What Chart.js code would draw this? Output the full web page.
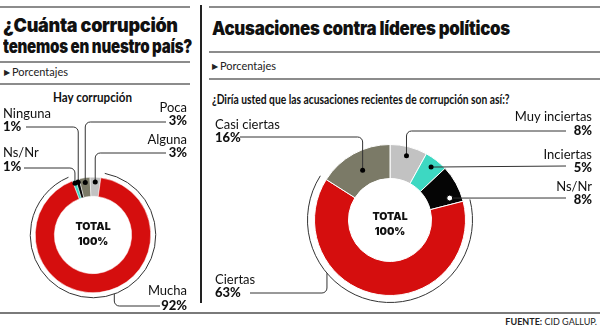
<!DOCTYPE html>
<html>
<head>
<meta charset="utf-8">
<script src="https://cdn.jsdelivr.net/npm/chart.js@4/dist/chart.umd.min.js"></script>
<style>
body{margin:0;width:600px;height:329px;position:relative;background:#fff;font-family:Lato,sans-serif;color:#111;overflow:hidden}
.hl{position:absolute;height:2px;background:#8c8c8c}
.t{position:absolute;white-space:nowrap;transform-origin:0 50%}
.title{font-family:Inter,Lato,sans-serif;font-weight:900;font-size:19px;line-height:21px;letter-spacing:-0.3px}
.pc{font-size:11px;line-height:12px;color:#222}
.pc span{font-size:8px;margin-right:2px;position:relative;top:-1px}
canvas{position:absolute}
</style>
</head>
<body>
<div class="hl" style="left:0;top:6px;width:190px"></div>
<div class="hl" style="left:209px;top:6px;width:391px"></div>
<div style="position:absolute;left:200px;top:5px;width:2px;height:298px;background:#222"></div>

<div class="t title" id="lt1" data-w="175" style="left:3px;top:15px">¿Cuánta corrupción</div>
<div class="t title" id="lt2" data-w="189" style="left:3px;top:36px">tenemos en nuestro país?</div>
<div class="hl" style="left:0;top:61px;width:190px"></div>
<div class="t pc" style="left:4px;top:66px"><span>&#9654;</span>Porcentajes</div>
<div class="hl" style="left:0;top:83px;width:190px"></div>
<div class="t" id="hay" data-w="79" style="left:53px;top:91px;font-weight:700;font-size:12.5px;line-height:14px">Hay corrupción</div>

<div class="t title" id="rt" data-w="298" style="left:212px;top:18px">Acusaciones contra líderes políticos</div>
<div class="hl" style="left:209px;top:51px;width:391px"></div>
<div class="t pc" style="left:212px;top:60px"><span>&#9654;</span>Porcentajes</div>
<div class="hl" style="left:209px;top:78px;width:391px"></div>
<div class="t" id="sub" data-w="298" style="left:212px;top:93px;font-weight:700;font-size:12.5px;line-height:14px">¿Diría usted que las acusaciones recientes de corrupción son así:?</div>

<canvas id="leftChart" width="198" height="224" style="left:0;top:88px"></canvas>
<canvas id="rightChart" width="400" height="212" style="left:200px;top:100px"></canvas>

<div class="hl" style="left:0;top:312px;width:600px;background:#7a7a7a"></div>
<div class="t" style="right:3px;top:317px;font-size:9px;line-height:10px;color:#222"><b>FUENTE:</b> CID GALLUP.</div>

<script>
// Datos
const leftLabels = ['Ns/Nr', 'Ninguna', 'Poca', 'Alguna', 'Mucha'];
const leftValues = [1, 1, 3, 3, 92];
const rightLabels = ['Muy inciertas', 'Inciertas', 'Ns/Nr', 'Ciertas', 'Casi ciertas'];
const rightValues = [8, 5, 8, 63, 16];

const leftColors = ['#3dd8c2', '#050505', '#7b7a67', '#c2c2c2', '#d50e0e'];
const rightColors = ['#c2c2c2', '#3dd8c2', '#050505', '#d50e0e', '#7b7a67'];

// Ajustar el ancho de los titulos
const fit = el => {
    const w = +el.dataset.w;
    el.style.transform = 'scaleX(' + (w / el.offsetWidth) + ')';
};
document.querySelectorAll('[data-w]').forEach(fit);

// Etiquetas, lineas guia y texto central
const callouts = {
    id: 'callouts',
    afterDatasetsDraw(chart, args, opts) {
        const ctx = chart.ctx;
        const meta = chart.getDatasetMeta(0);
        const labels = chart.data.labels;
        const vals = chart.data.datasets[0].data;
        const first = meta.data[0];
        const cx = first.x, cy = first.y, R = first.outerRadius;
        const ar = R + opts.arcGap;
        const big = meta.data[opts.arcIndex];
        const rad = Math.PI / 180;

        ctx.save();
        ctx.strokeStyle = '#333';
        ctx.lineWidth = 1;
        ctx.beginPath();
        ctx.arc(cx, cy, ar, big.startAngle + opts.arcTrim[0] * rad, big.endAngle - opts.arcTrim[1] * rad);
        ctx.stroke();

        // TOTAL 100%
        ctx.fillStyle = '#111';
        ctx.textAlign = 'center';
        ctx.textBaseline = 'middle';
        ctx.font = '900 10.5px Inter';
        ctx.fillText('TOTAL', cx, cy - 8 + opts.textShift);
        ctx.fillText('100%', cx, cy + 7 + opts.textShift);

        opts.items.forEach(it => {
            const el = meta.data[it.i];
            let px, py;
            if (it.onArc != null) {
                const a = el.startAngle + it.onArc * (el.endAngle - el.startAngle);
                px = cx + ar * Math.cos(a);
                py = cy + ar * Math.sin(a);
            } else {
                const af = it.af == null ? 0.5 : it.af;
                const a = el.startAngle + af * (el.endAngle - el.startAngle);
                const r = el.innerRadius + (el.outerRadius - el.innerRadius) * (it.rf || 0.5);
                px = cx + r * Math.cos(a);
                py = cy + r * Math.sin(a);
            }

            ctx.strokeStyle = '#333';
            ctx.beginPath();
            ctx.moveTo(it.lineX, it.lineY);
            if (Math.abs(py - it.lineY) < 3) {
                ctx.lineTo(px, py);
            } else {
                ctx.arcTo(px, it.lineY, px, py, 5);
                ctx.lineTo(px, py);
            }
            ctx.stroke();

            if (it.onArc == null) {
                ctx.beginPath();
                ctx.arc(px, py, it.open ? 3 : 2.5, 0, Math.PI * 2);
                ctx.fillStyle = it.open ? '#fff' : '#000';
                ctx.fill();
                if (it.open) { ctx.strokeStyle = '#000'; ctx.stroke(); }
            }

            ctx.fillStyle = '#111';
            ctx.textAlign = it.align;
            ctx.textBaseline = 'middle';
            ctx.font = '13px Lato';
            ctx.fillText(labels[it.i], it.x, it.nameY);
            ctx.font = '900 13px Lato';
            ctx.fillText(vals[it.i] + '%', it.x, it.pctY);
        });
        ctx.restore();
    }
};

const donut = (id, labels, values, colors, cutout, rotation, border, padding, calloutOpts) => new Chart(document.getElementById(id), {
    type: 'doughnut',
    data: {
        labels: labels,
        datasets: [{
            data: values,
            backgroundColor: colors,
            borderColor: '#fff',
            borderWidth: border,
        }]
    },
    options: {
        responsive: false,
        animation: false,
        cutout: cutout,
        rotation: rotation,
        layout: { padding: padding },
        plugins: {
            legend: { display: false },
            tooltip: { enabled: false },
            callouts: calloutOpts
        }
    },
    plugins: [callouts]
});

const leftChart = donut('leftChart', leftLabels, leftValues, leftColors, '67%', -21, 0.5,
    { left: 35, right: 47, top: 89, bottom: 19 },
    {
        arcIndex: 4, arcGap: 5, arcTrim: [3, 2], textShift: 0,
        items: [
            { i: 0, align: 'left', x: 3, nameY: 65, pctY: 79, lineX: 24, lineY: 80, rf: 0.85 },
            { i: 1, align: 'left', x: 3, nameY: 26, pctY: 39, lineX: 26, lineY: 39, rf: 0.85 },
            { i: 2, align: 'right', x: 187, nameY: 20, pctY: 33, lineX: 166, lineY: 34, rf: 0.75 },
            { i: 3, align: 'right', x: 187, nameY: 52, pctY: 65, lineX: 166, lineY: 65, rf: 0.75 },
            { i: 4, align: 'right', x: 187, nameY: 203, pctY: 218, lineX: 160, lineY: 218, onArc: 0.46 }
        ]
    });

const rightChart = donut('rightChart', rightLabels, rightValues, rightColors, '55%', 0, 1,
    { left: 114, right: 134, top: 44, bottom: 16 },
    {
        arcIndex: 3, arcGap: 7, arcTrim: [0, 0], textShift: 5,
        items: [
            { i: 0, align: 'right', x: 392, nameY: 17, pctY: 31, lineX: 366, lineY: 31, rf: 0.73 },
            { i: 1, align: 'right', x: 392, nameY: 55, pctY: 68, lineX: 366, lineY: 66, rf: 0.75 },
            { i: 2, align: 'right', x: 392, nameY: 87, pctY: 100, lineX: 366, lineY: 98, rf: 0.65, af: 0.8, open: true },
            { i: 3, align: 'left', x: 15, nameY: 180, pctY: 193, lineX: 50, lineY: 193, onArc: 0.68 },
            { i: 4, align: 'left', x: 15, nameY: 25, pctY: 38, lineX: 40, lineY: 37, rf: 0.45 }
        ]
    });
</script>
</body>
</html>
